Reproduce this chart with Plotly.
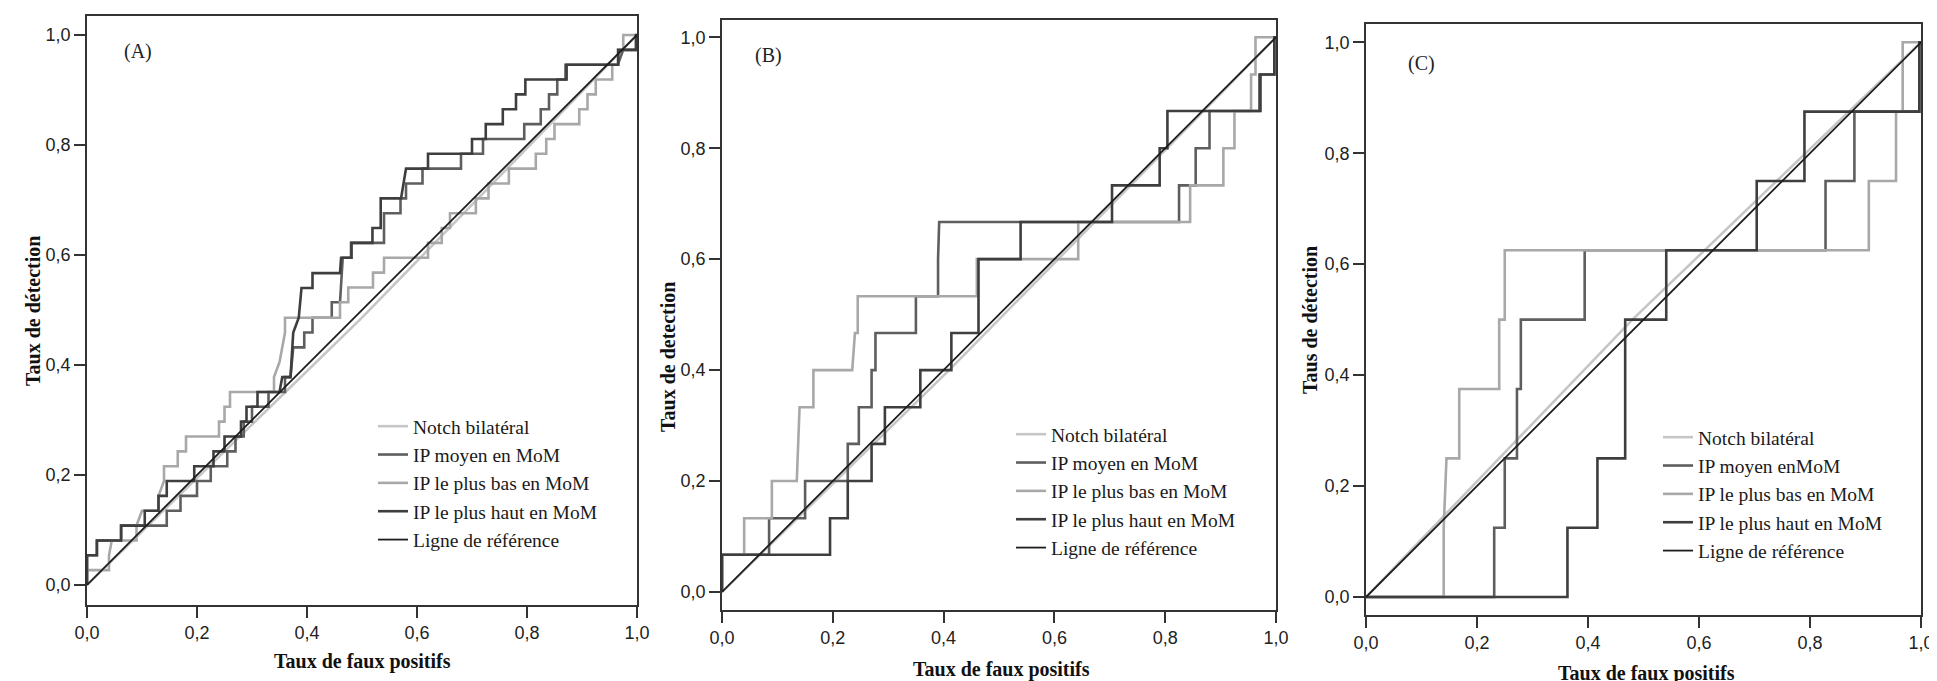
import plotly.graph_objects as go

FIG_W, FIG_H = 1937, 681

# ---------------- data ----------------
series_names = ["Notch bilatéral", "IP moyen en MoM", "IP le plus bas en MoM",
                "IP le plus haut en MoM", "Ligne de référence"]
series_names_C = ["Notch bilatéral", "IP moyen enMoM", "IP le plus bas en MoM",
                  "IP le plus haut en MoM", "Ligne de référence"]
panel_labels = ["(A)", "(B)", "(C)"]
x_titles = ["Taux de faux positifs", "Taux de faux positifs", "Taux de faux positifs"]
y_titles = ["Taux de détection", "Taux de detection", "Taus de détection"]

tick_vals = [0.0, 0.2, 0.4, 0.6, 0.8, 1.0]
tick_text = ["0,0", "0,2", "0,4", "0,6", "0,8", "1,0"]

ref_pts = [(0, 0), (1, 1)]

# Panel A  (points of the ROC curves: false-positive rate, detection rate)
A_notch = [(0, 0), (0.5, 0.486), (1, 1)]
A_moyen = [(0, 0), (0, 0.054), (0.018, 0.054), (0.018, 0.081), (0.062, 0.081), (0.062, 0.108),
           (0.145, 0.108), (0.145, 0.135), (0.17, 0.135), (0.17, 0.162), (0.2, 0.162), (0.2, 0.189),
           (0.225, 0.189), (0.225, 0.216), (0.255, 0.216), (0.255, 0.243), (0.27, 0.243), (0.27, 0.27),
           (0.285, 0.27), (0.285, 0.297), (0.3, 0.297), (0.3, 0.324), (0.33, 0.324), (0.33, 0.351),
           (0.36, 0.351), (0.36, 0.378), (0.37, 0.378), (0.375, 0.432), (0.395, 0.432), (0.395, 0.459),
           (0.41, 0.459), (0.41, 0.486), (0.445, 0.486), (0.445, 0.514), (0.46, 0.514), (0.465, 0.595),
           (0.48, 0.595), (0.48, 0.622), (0.54, 0.622), (0.54, 0.676), (0.57, 0.676), (0.57, 0.703),
           (0.58, 0.703), (0.58, 0.73), (0.61, 0.73), (0.61, 0.757), (0.68, 0.757), (0.68, 0.784),
           (0.72, 0.784), (0.72, 0.811), (0.795, 0.811), (0.795, 0.838), (0.825, 0.838), (0.825, 0.865),
           (0.84, 0.865), (0.84, 0.892), (0.855, 0.892), (0.855, 0.919), (0.87, 0.919), (0.87, 0.946),
           (0.965, 0.946), (0.975, 0.973), (1.0, 0.973), (1, 1)]
A_bas = [(0, 0), (0, 0.027), (0.04, 0.027), (0.04, 0.054), (0.045, 0.081), (0.09, 0.081), (0.09, 0.108),
         (0.10, 0.135), (0.13, 0.135), (0.13, 0.162), (0.14, 0.189), (0.14, 0.216), (0.165, 0.216),
         (0.165, 0.243), (0.18, 0.243), (0.18, 0.27), (0.24, 0.27), (0.24, 0.297), (0.25, 0.297),
         (0.25, 0.324), (0.26, 0.324), (0.26, 0.351), (0.34, 0.351), (0.34, 0.378), (0.35, 0.405),
         (0.355, 0.432), (0.36, 0.459), (0.36, 0.486), (0.46, 0.486), (0.46, 0.514), (0.475, 0.514),
         (0.475, 0.541), (0.52, 0.541), (0.52, 0.568), (0.54, 0.568), (0.54, 0.595), (0.62, 0.595),
         (0.62, 0.622), (0.645, 0.622), (0.645, 0.649), (0.66, 0.649), (0.66, 0.676), (0.707, 0.676),
         (0.707, 0.703), (0.73, 0.703), (0.73, 0.73), (0.767, 0.73), (0.767, 0.757), (0.816, 0.757),
         (0.816, 0.784), (0.835, 0.784), (0.835, 0.811), (0.85, 0.811), (0.85, 0.838), (0.895, 0.838),
         (0.895, 0.865), (0.91, 0.865), (0.91, 0.892), (0.925, 0.892), (0.925, 0.919), (0.955, 0.919),
         (0.955, 0.946), (0.965, 0.946), (0.965, 0.973), (0.975, 0.973), (0.975, 1.0), (1, 1)]
A_haut = [(0, 0), (0, 0.054), (0.018, 0.054), (0.018, 0.081), (0.062, 0.081), (0.062, 0.108),
          (0.105, 0.108), (0.105, 0.135), (0.13, 0.135), (0.13, 0.162), (0.145, 0.162), (0.145, 0.189),
          (0.195, 0.189), (0.195, 0.216), (0.23, 0.216), (0.23, 0.243), (0.25, 0.243), (0.25, 0.27),
          (0.28, 0.27), (0.28, 0.297), (0.29, 0.297), (0.29, 0.324), (0.31, 0.324), (0.31, 0.351),
          (0.35, 0.351), (0.355, 0.378), (0.37, 0.378), (0.375, 0.459), (0.385, 0.486), (0.39, 0.54),
          (0.41, 0.54), (0.41, 0.567), (0.46, 0.567), (0.462, 0.595), (0.481, 0.595), (0.481, 0.622),
          (0.519, 0.622), (0.519, 0.649), (0.534, 0.649), (0.534, 0.703), (0.571, 0.703), (0.575, 0.73),
          (0.58, 0.757), (0.62, 0.757), (0.62, 0.784), (0.70, 0.784), (0.70, 0.811), (0.725, 0.811),
          (0.725, 0.838), (0.756, 0.838), (0.756, 0.865), (0.78, 0.865), (0.78, 0.892), (0.797, 0.892),
          (0.797, 0.919), (0.872, 0.919), (0.872, 0.946), (0.966, 0.946), (0.966, 0.973), (0.998, 0.973),
          (0.998, 1.0), (1, 1)]

# Panel B
B_notch = [(0, 0), (0.41, 0.40), (1, 1)]
B_moyen = [(0, 0), (0, 0.067), (0.085, 0.067), (0.085, 0.133), (0.15, 0.133), (0.15, 0.2), (0.227, 0.2),
           (0.227, 0.267), (0.247, 0.267), (0.247, 0.333), (0.27, 0.333), (0.27, 0.4), (0.277, 0.4),
           (0.277, 0.467), (0.35, 0.467), (0.35, 0.533), (0.39, 0.533), (0.39, 0.6), (0.392, 0.667),
           (0.825, 0.667), (0.825, 0.733), (0.855, 0.733), (0.855, 0.8), (0.88, 0.8), (0.88, 0.867),
           (0.97, 0.867), (0.97, 0.933), (0.997, 0.933), (0.997, 1.0), (1, 1)]
B_bas = [(0, 0), (0, 0.067), (0.04, 0.067), (0.04, 0.133), (0.09, 0.133), (0.09, 0.2), (0.135, 0.2),
         (0.137, 0.267), (0.14, 0.333), (0.165, 0.333), (0.165, 0.4), (0.235, 0.4), (0.24, 0.467),
         (0.245, 0.467), (0.245, 0.533), (0.46, 0.533), (0.46, 0.6), (0.643, 0.6), (0.643, 0.667),
         (0.845, 0.667), (0.845, 0.733), (0.905, 0.733), (0.905, 0.8), (0.925, 0.8), (0.925, 0.867),
         (0.955, 0.867), (0.955, 0.933), (0.963, 0.933), (0.963, 1.0), (1, 1)]
B_haut = [(0, 0), (0, 0.067), (0.195, 0.067), (0.195, 0.133), (0.227, 0.133), (0.227, 0.2), (0.27, 0.2),
          (0.27, 0.267), (0.294, 0.267), (0.294, 0.333), (0.358, 0.333), (0.358, 0.4), (0.414, 0.4),
          (0.414, 0.467), (0.463, 0.467), (0.463, 0.6), (0.539, 0.6), (0.539, 0.667), (0.704, 0.667),
          (0.704, 0.733), (0.79, 0.733), (0.79, 0.8), (0.804, 0.8), (0.804, 0.867), (0.972, 0.867),
          (0.972, 0.933), (0.997, 0.933), (0.997, 1.0), (1, 1)]

# Panel C
C_notch = [(0, 0), (0.48, 0.5), (1, 1)]
C_moyen = [(0, 0), (0.231, 0), (0.231, 0.125), (0.25, 0.125), (0.25, 0.25), (0.272, 0.25), (0.272, 0.375),
           (0.279, 0.375), (0.279, 0.5), (0.394, 0.5), (0.394, 0.625), (0.828, 0.625), (0.828, 0.75),
           (0.88, 0.75), (0.88, 0.875), (0.997, 0.875), (0.997, 1.0), (1, 1)]
C_bas = [(0, 0), (0.14, 0), (0.14, 0.125), (0.145, 0.25), (0.168, 0.25), (0.168, 0.375), (0.24, 0.375),
         (0.24, 0.5), (0.25, 0.5), (0.25, 0.625), (0.906, 0.625), (0.906, 0.75), (0.955, 0.75),
         (0.955, 0.875), (0.967, 0.875), (0.967, 1.0), (1, 1)]
C_haut = [(0, 0), (0.363, 0), (0.363, 0.125), (0.417, 0.125), (0.417, 0.25), (0.467, 0.25), (0.467, 0.5),
          (0.541, 0.5), (0.541, 0.625), (0.704, 0.625), (0.704, 0.75), (0.79, 0.75), (0.79, 0.875),
          (0.997, 0.875), (0.997, 1.0), (1, 1)]

# ---------------- styles ----------------
series_colors = ["#c6c6c6", "#5e5e5e", "#a8a8a8", "#3e3e3e", "#1c1c1c"]
series_widths = [2.6, 2.6, 2.6, 2.6, 1.8]

# pixel geometry of each panel frame: left, right, top, bottom; y-range
panel_px = [(79, 629, 8.3, 597, (-0.0364, 1.034)),
            (714, 1268, 11.7, 602, (-0.0325, 1.0317)),
            (1358, 1913, 15.7, 607, (-0.0324, 1.0335))]
legend_px = [(365, 399), (1003, 407), (1650, 410)]
label_px = [(130, 43), (760, 48), (1413, 56)]
xtitle_px = [(354, 653), (993, 661), (1638, 665)]
ytitle_px = [(25, 303), (660, 349), (1302, 312)]

panels = [
    [A_notch, A_moyen, A_bas, A_haut, ref_pts],
    [B_notch, B_moyen, B_bas, B_haut, ref_pts],
    [C_notch, C_moyen, C_bas, C_haut, ref_pts],
]


def px_x(p):
    return p / FIG_W


def px_y(p):
    return 1 - p / FIG_H


fig = go.Figure()
layout = dict(
    width=FIG_W, height=FIG_H,
    margin=dict(l=0, r=0, t=0, b=0, pad=0, autoexpand=False),
    paper_bgcolor="white", plot_bgcolor="white",
    showlegend=True,
    annotations=[],
)

serif = "Liberation Serif, Times New Roman, serif"
tickfont = dict(family="Liberation Sans Narrow, Arial Narrow, Liberation Sans, sans-serif",
                size=18, color="#222222")

for i, curves in enumerate(panels):
    suffix = "" if i == 0 else str(i + 1)
    xa, ya = "x" + suffix, "y" + suffix
    leg = "legend" + suffix
    names = series_names_C if i == 2 else series_names
    for j, pts in enumerate(curves):
        xs = [p[0] for p in pts]
        ys = [p[1] for p in pts]
        fig.add_trace(go.Scatter(
            x=xs, y=ys, mode="lines", name=names[j],
            line=dict(color=series_colors[j], width=series_widths[j]),
            xaxis=xa, yaxis=ya, legend=leg, hoverinfo="skip",
        ))
    l, r, t, b, yr = panel_px[i]
    axis_common = dict(showline=True, mirror=True, linecolor="#333333", linewidth=1.6,
                       ticks="outside", ticklen=11, tickwidth=1.6, tickcolor="#333333",
                       showgrid=False, zeroline=False, tickmode="array",
                       tickvals=tick_vals, ticktext=tick_text, tickfont=tickfont,
                       fixedrange=True, automargin=False)
    layout["xaxis" + suffix] = dict(domain=[px_x(l), px_x(r)], range=[0, 1],
                                    anchor=ya, **axis_common)
    layout["yaxis" + suffix] = dict(domain=[px_y(b), px_y(t)], range=list(yr),
                                    anchor=xa, **axis_common)
    lx, ly = legend_px[i]
    layout[leg] = dict(x=px_x(lx), y=px_y(ly), xanchor="left", yanchor="top",
                       xref="paper", yref="paper",
                       bgcolor="rgba(0,0,0,0)", borderwidth=0,
                       font=dict(family=serif, size=19.5, color="#1a1a1a"),
                       tracegroupgap=0, itemwidth=30, traceorder="normal")
    cx, cy = label_px[i]
    layout["annotations"].append(dict(
        text=panel_labels[i], x=px_x(cx), y=px_y(cy), xref="paper", yref="paper",
        showarrow=False, xanchor="center", yanchor="middle",
        font=dict(family=serif, size=20, color="#222222")))
    tx, ty = xtitle_px[i]
    layout["annotations"].append(dict(
        text="<b>" + x_titles[i] + "</b>", x=px_x(tx), y=px_y(ty), xref="paper", yref="paper",
        showarrow=False, xanchor="center", yanchor="middle",
        font=dict(family=serif, size=20, color="#111111")))
    qx, qy = ytitle_px[i]
    layout["annotations"].append(dict(
        text="<b>" + y_titles[i] + "</b>", x=px_x(qx), y=px_y(qy), xref="paper", yref="paper",
        showarrow=False, xanchor="center", yanchor="middle", textangle=-90,
        font=dict(family=serif, size=20, color="#111111")))

fig.update_layout(**layout)
fig.write_html("out.html")
